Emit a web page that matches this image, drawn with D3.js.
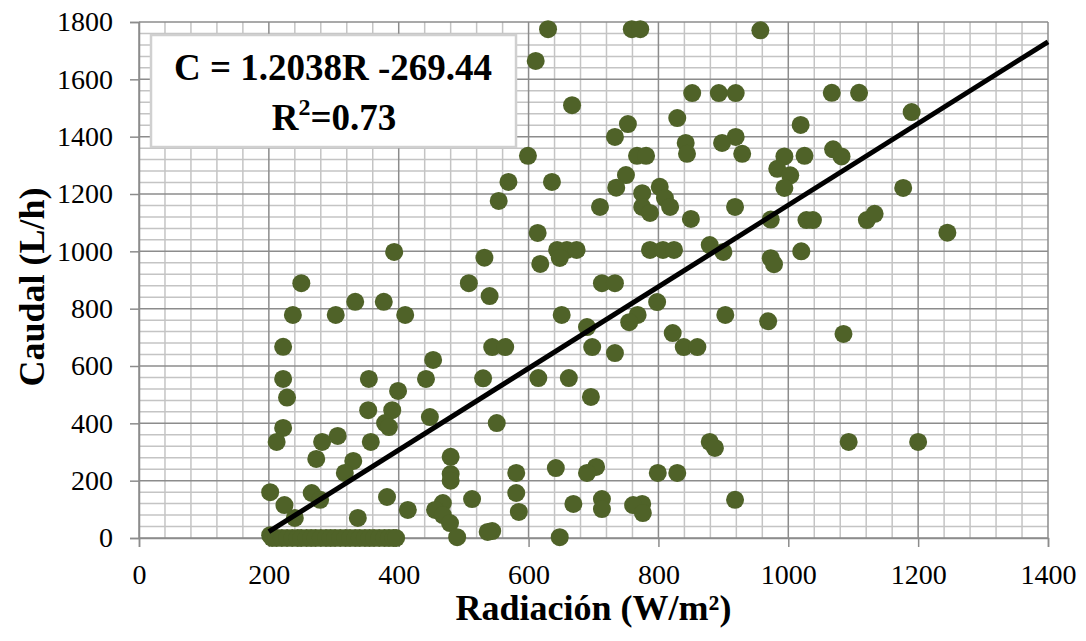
<!DOCTYPE html>
<html>
<head>
<meta charset="utf-8">
<script src="https://cdn.jsdelivr.net/npm/d3@7"></script>
<style>
    body { margin: 0; background: #fff; }
    svg { display: block; font-family: "Liberation Serif", "Times New Roman", serif; }
</style>
</head>
<body>
<div id="chart"></div>
<script>
// Radiación (W/m²) and Caudal (L/h)
const radiacion = [
    630, 759, 772, 957, 611, 1067, 1109, 852, 893, 919, 667, 1190, 829, 753, 1019, 733, 919, 842, 898, 1069,
    844, 929, 994, 1025, 1082, 599, 767, 781, 983, 1003, 750, 569, 636, 994, 1177, 735, 802, 775, 810, 554,
    710, 775, 818, 918, 787, 850, 973, 1028, 1038, 1121, 1133, 1245, 614, 1020, 644, 659, 674, 787, 807, 824,
    879, 900, 393, 648, 532, 973, 978, 618, 250, 508, 713, 733, 540, 333, 377, 798, 237, 303, 410, 651,
    768, 903, 755, 969, 690, 1085, 822, 222, 544, 564, 698, 839, 860, 733, 453, 222, 354, 442, 530, 615,
    662, 399, 228, 696, 353, 390, 448, 551, 379, 385, 222, 306, 212, 282, 357, 879, 887, 1093, 1200, 480,
    273, 330, 704, 642, 317, 480, 480, 581, 690, 799, 829, 202, 266, 581, 382, 513, 279, 713, 918, 468,
    669, 775, 761, 224, 414, 456, 713, 585, 776, 468, 240, 337, 479, 544, 537, 490, 648, 202,
    205, 212, 220, 228, 236, 244, 250, 258, 265, 272, 280, 288, 295, 302, 310, 318, 325, 333, 340, 348,
    355, 362, 370, 378, 385, 392, 396
];
const caudal = [
    1775, 1775, 1775, 1771, 1664, 1553, 1553, 1552, 1552, 1552, 1510, 1486, 1465, 1444, 1441, 1399, 1399, 1378, 1378, 1356,
    1340, 1340, 1331, 1333, 1331, 1333, 1333, 1333, 1288, 1265, 1266, 1242, 1242, 1221, 1221, 1222, 1225, 1203, 1186, 1176,
    1155, 1155, 1155, 1155, 1134, 1113, 1111, 1109, 1109, 1109, 1131, 1065, 1064, 1000, 1005, 1005, 1005, 1005, 1005, 1005,
    1022, 998, 998, 977, 978, 976, 955, 956, 889, 889, 889, 889, 844, 824, 824, 823, 778, 778, 778, 778,
    778, 778, 753, 756, 736, 712, 715, 667, 666, 666, 666, 666, 666, 645, 621, 555, 555, 555, 557, 558,
    558, 513, 490, 492, 446, 446, 422, 401, 401, 387, 384, 356, 335, 335, 335, 335, 314, 335, 335, 283,
    276, 269, 248, 244, 227, 223, 200, 227, 227, 227, 227, 160, 157, 157, 143, 136, 133, 136, 133, 122,
    119, 119, 115, 115, 98, 98, 101, 91, 87, 80, 70, 70, 52, 24, 21, 3, 3, 10,
    0, 0, 0, 0, 0, 0, 0, 0, 0, 0, 0, 0, 0, 0, 0, 0, 0, 0, 0, 0,
    0, 0, 0, 0, 0, 0, 0
];

// trend line as drawn on the picture (two ends)
const trendX = [200, 1400];
const trendY = [22, 1731];

const xTicks = [0, 200, 400, 600, 800, 1000, 1200, 1400];
const yTicks = [0, 200, 400, 600, 800, 1000, 1200, 1400, 1600, 1800];
const equationLine = "C = 1.2038R -269.44";
const r2Value = "=0.73";

const width = 1086, height = 641;
const margin = { top: 22, right: 38, bottom: 103, left: 139 };
const innerW = width - margin.left - margin.right;
const innerH = height - margin.top - margin.bottom;
const serif = '"Liberation Serif", "Times New Roman", serif';

const svg = d3.select('#chart')
    .append('svg')
    .attr('width', width)
    .attr('height', height);

const g = svg.append('g')
    .attr('transform', `translate(${margin.left},${margin.top})`);

const x = d3.scaleLinear().domain([0, 1400]).range([0, innerW]);
const y = d3.scaleLinear().domain([0, 1800]).range([innerH, 0]);

// minor grid every 40, major every 200
const minorX = d3.range(0, 1401, 40).filter(v => v % 200 !== 0);
const minorY = d3.range(0, 1801, 40).filter(v => v % 200 !== 0);

g.selectAll('.minor-x').data(minorX).enter().append('line')
    .attr('x1', d => x(d)).attr('x2', d => x(d))
    .attr('y1', 0).attr('y2', innerH)
    .attr('stroke', '#c4c4c4').attr('stroke-width', 1.5);

g.selectAll('.minor-y').data(minorY).enter().append('line')
    .attr('y1', d => y(d)).attr('y2', d => y(d))
    .attr('x1', 0).attr('x2', innerW)
    .attr('stroke', '#c4c4c4').attr('stroke-width', 1.5);

g.selectAll('.major-x').data(xTicks).enter().append('line')
    .attr('x1', d => x(d)).attr('x2', d => x(d))
    .attr('y1', 0).attr('y2', innerH)
    .attr('stroke', '#8c8c8c').attr('stroke-width', 1.5);

g.selectAll('.major-y').data(yTicks).enter().append('line')
    .attr('y1', d => y(d)).attr('y2', d => y(d))
    .attr('x1', 0).attr('x2', innerW)
    .attr('stroke', '#8c8c8c').attr('stroke-width', 1.5);

// axes
const xAxis = g.append('g')
    .attr('transform', `translate(0,${innerH})`)
    .call(d3.axisBottom(x).tickValues(xTicks).tickSize(9).tickPadding(17).tickFormat(d3.format('d')));

const yAxis = g.append('g')
    .call(d3.axisLeft(y).tickValues(yTicks).tickSize(9).tickPadding(17).tickFormat(d3.format('d')));

[xAxis, yAxis].forEach(ax => {
    ax.attr('font-family', serif).attr('font-size', 28);
    ax.select('.domain').attr('stroke', '#8c8c8c').attr('stroke-width', 1.5);
    ax.selectAll('.tick line').attr('stroke', '#8c8c8c').attr('stroke-width', 1.5);
    ax.selectAll('text').attr('fill', '#000');
});

// points
const points = radiacion.map((r, i) => ({ r: r, c: caudal[i] }));

g.selectAll('.dot').data(points).enter().append('circle')
    .attr('cx', d => x(d.r))
    .attr('cy', d => y(d.c))
    .attr('r', 9)
    .attr('fill', '#4f6228');

// trend line
g.append('line')
    .attr('x1', x(trendX[0])).attr('y1', y(trendY[0]))
    .attr('x2', x(trendX[1])).attr('y2', y(trendY[1]))
    .attr('stroke', '#000')
    .attr('stroke-width', 5);

// equation box
svg.append('rect')
    .attr('x', 151).attr('y', 35)
    .attr('width', 365).attr('height', 112)
    .attr('fill', '#fff')
    .attr('stroke', '#d0d0d0')
    .attr('stroke-width', 2.5);

svg.append('text')
    .attr('x', 333).attr('y', 80)
    .attr('text-anchor', 'middle')
    .attr('font-weight', 'bold')
    .attr('font-size', 37)
    .text(equationLine);

const r2 = svg.append('text')
    .attr('x', 334).attr('y', 130)
    .attr('text-anchor', 'middle')
    .attr('font-weight', 'bold')
    .attr('font-size', 37);
r2.append('tspan').text('R');
r2.append('tspan').attr('font-size', 24).attr('dy', -15).text('2');
r2.append('tspan').attr('dy', 15).text(r2Value);

// axis titles
svg.append('text')
    .attr('x', margin.left + innerW / 2)
    .attr('y', 620)
    .attr('text-anchor', 'middle')
    .attr('font-weight', 'bold')
    .attr('font-size', 36)
    .text('Radiación (W/m²)');

svg.append('text')
    .attr('transform', `translate(44,287) rotate(-90)`)
    .attr('text-anchor', 'middle')
    .attr('font-weight', 'bold')
    .attr('font-size', 36)
    .text('Caudal (L/h)');
</script>
</body>
</html>
